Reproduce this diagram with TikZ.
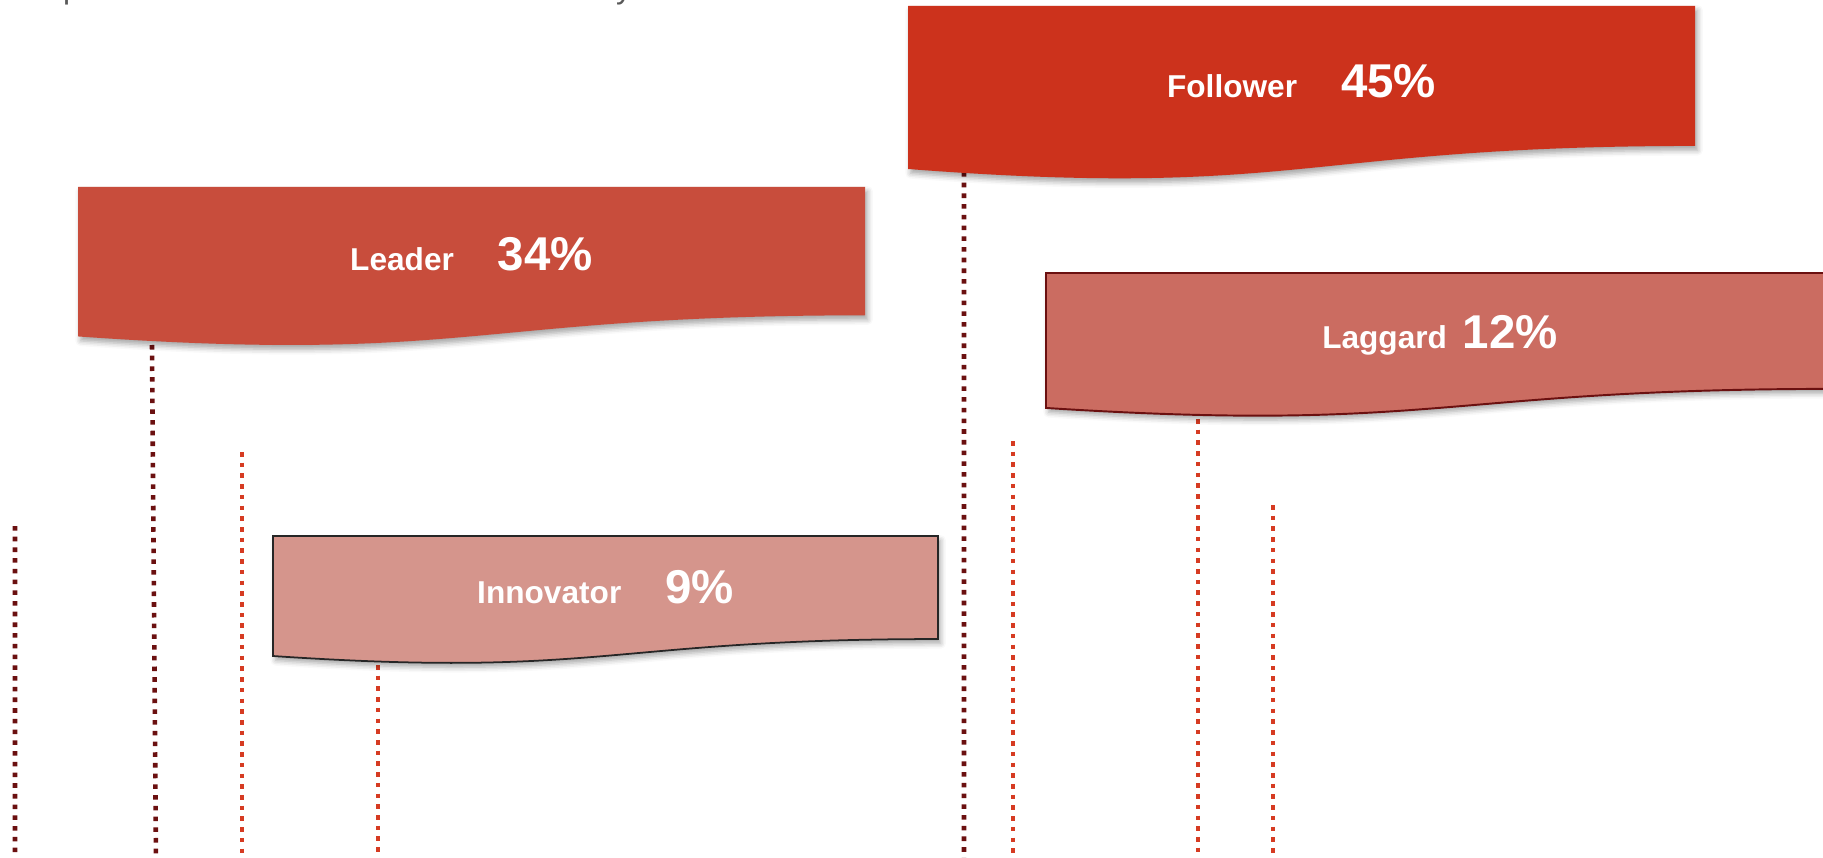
\documentclass[tikz,border=0pt]{standalone}
\usepackage{fontspec}
\setmainfont{Liberation Sans}
\usetikzlibrary{shadows.blur}

\definecolor{followred}{HTML}{CC321C}
\definecolor{leadred}{HTML}{C84D3C}
\definecolor{lagred}{HTML}{CB6C61}
\definecolor{innovpink}{HTML}{D5958C}
\definecolor{darkdot}{HTML}{6B1010}
\definecolor{lightdot}{HTML}{D63B22}
\definecolor{topgray}{HTML}{595959}

\newcommand{\pct}[1]{{\fontsize{27}{30}\selectfont #1}}
% document shape: name, style, x, y, width, height, text
\newcommand{\docshape}[7]{%
  \filldraw[#2] (#3,#4) -- ({#3+#5},#4) -- ({#3+#5},{#4+0.802*#6})
    .. controls ({#3+0.5*#5},{#4+0.802*#6}) and ({#3+0.5*#5},{#4+1.1075*#6}) .. (#3,{#4+0.934*#6}) -- cycle;
  \node[lbl] (#1) at ({#3+0.5*#5},{#4+0.525*#6}) {#7};
}

\begin{document}
\begin{tikzpicture}[x=0.02cm,y=-0.02cm,
    lbl/.style={text=white,font=\fontsize{18}{20}\selectfont\bfseries,anchor=base,inner sep=0pt},
    shade/.style={blur shadow={shadow xshift=1.5pt,shadow yshift=-2.5pt,shadow blur radius=3pt,shadow opacity=35}},
    followerbox/.style={fill=followred,draw=none,shade},
    leaderbox/.style={fill=leadred,draw=none,shade},
    laggardbox/.style={fill=lagred,draw=darkdot,line width=1.1pt,shade},
    innovatorbox/.style={fill=innovpink,draw=black!85,line width=1pt,shade},
    darkdots/.style={draw=darkdot,line width=2.6pt,dash pattern=on 2.6pt off 3.5pt},
    lightdots/.style={draw=lightdot,line width=2.6pt,dash pattern=on 2.6pt off 3.5pt}]
    \useasboundingbox (0,0) rectangle (1823,858);
    \clip (0,0) rectangle (1823,858);

    % cut off line of text above
    \node[anchor=base,text=topgray,font=\fontsize{18}{20}\selectfont,inner sep=0pt] (cutp) at (72,-1.5) {p};
    \node[anchor=base,text=topgray,font=\fontsize{18}{20}\selectfont,inner sep=0pt] (cuty) at (624,-1.5) {y};

    \coordinate (d1) at (15,526);      \coordinate (d1e) at (15,860);
    \coordinate (leadfoot) at (152,345); \coordinate (leadend) at (156,860);
    \coordinate (followfoot) at (964,172); \coordinate (followend) at (964,860);
    \coordinate (l1) at (242,452);     \coordinate (l1e) at (242,860);
    \coordinate (innovfoot) at (378,665); \coordinate (innovend) at (378,860);
    \coordinate (l2) at (1013,441);    \coordinate (l2e) at (1013,860);
    \coordinate (lagfoot) at (1198,419); \coordinate (lagend) at (1198,860);
    \coordinate (l3) at (1273,505);    \coordinate (l3e) at (1273,860);

    \draw[darkdots] (d1) -- (d1e) (leadfoot) -- (leadend) (followfoot) -- (followend);
    \draw[lightdots] (l1) -- (l1e) (innovfoot) -- (innovend) (l2) -- (l2e) (lagfoot) -- (lagend) (l3) -- (l3e);

    \docshape{follower}{followerbox}{908}{6}{787}{174.5}{Follower\hspace{25pt}\pct{45\%}}
    \docshape{leader}{leaderbox}{78}{187}{787}{160}{Leader\hspace{25pt}\pct{34\%}}
    \docshape{laggard}{laggardbox}{1046}{273}{788}{144.5}{Laggard\hspace{9pt}\pct{12\%}}
    \docshape{innovator}{innovatorbox}{273}{536}{665}{128.5}{Innovator\hspace{25pt}\pct{9\%}}

\end{tikzpicture}
\end{document}
